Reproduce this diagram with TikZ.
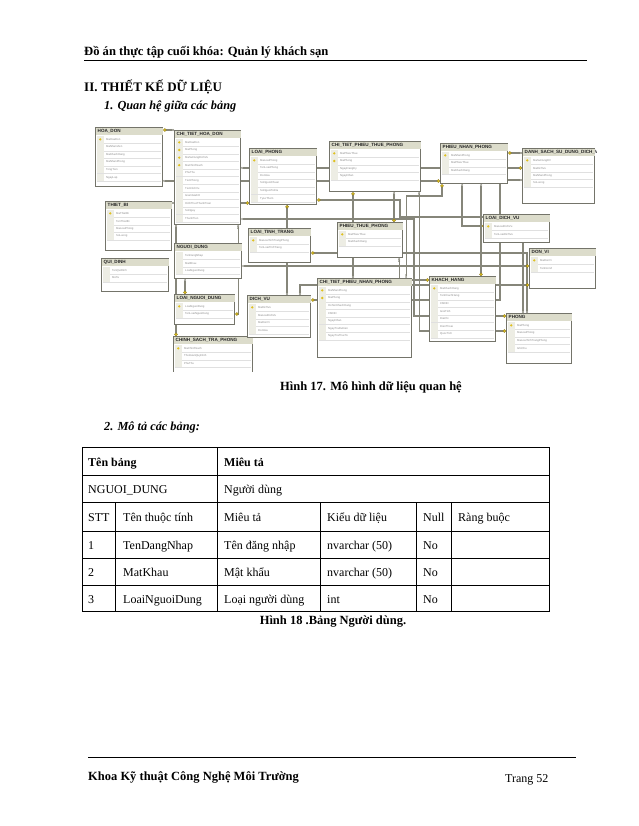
\documentclass[tikz,border=0pt]{standalone}
\usepackage{fontspec}
\setmainfont{Liberation Serif}
\newfontfamily\dbfont{Liberation Sans}
\usetikzlibrary{arrows.meta, positioning}
\pgfdeclarelayer{bottom}
\pgfdeclarelayer{background}
\pgfsetlayers{bottom,background,main}

\definecolor{relgray}{HTML}{86867A}
\definecolor{tblframe}{HTML}{74746A}
\definecolor{tblhead}{HTML}{DCDCCB}
\definecolor{tblgut}{HTML}{EDEDE4}
\definecolor{keyyel}{HTML}{E0C01E}

\tikzset{
  tbl/.style={draw=tblframe, line width=1.1pt, fill=white, anchor=north west, inner sep=0pt},
  tbltitle/.style={font=\dbfont\bfseries\fontsize{4.6}{5}\selectfont, anchor=west, inner sep=0pt, text=black!85},
  fld/.style={font=\dbfont\fontsize{2.8}{3}\selectfont, anchor=west, inner sep=0pt, text=black!45},
  rel/.style={draw=relgray, line width=1.2pt,
    {Circle[open,length=2pt,width=2pt,line width=0.5pt]Circle[open,length=2pt,width=2pt,line width=0.5pt]}-{Circle[fill=keyyel,color=keyyel!60!black,length=3.4pt,width=3.4pt,line width=0.4pt]}},
  txt/.style={anchor=base west, inner sep=0pt, font=\fontsize{12}{14}\selectfont},
  cell/.style={anchor=base west, inner sep=0pt, font=\fontsize{12}{14}\selectfont}
}

% table box: name, x, y, width, height, title, key/field list
\newcommand{\dbtable}[7]{%
  \node[tbl, minimum width=#4pt, minimum height=#5pt] (#1) at (#2,#3) {};
  \fill[tblhead] ([shift={(0.6,0.6)}]#1.north west) rectangle ([shift={(-0.6,7.6)}]#1.north east);
  \node[tbltitle] (#1-t) at ([shift={(2.5,4.2)}]#1.north west) {#6};
  \foreach \k/\f [count=\i] in {#7} {
    \fill[tblgut] ([shift={(2,{8.6+7.6*(\i-1)})}]#1.north west) rectangle ++(6.5,7.6);
    \draw[black!12, line width=0.4pt] ([shift={(2,{8.6+7.6*\i})}]#1.north west) -- ([shift={(-2,{8.6+7.6*\i})}]#1.north east);
    \node[fld] (#1-\i) at ([shift={(11,{4.8+7.6*\i})}]#1.north west) {\f};
    \ifnum\k=1 \fill[keyyel] ([shift={(5.2,{4.8+7.6*\i})}]#1.north west) circle (1.3);\fi
  }
}

\begin{document}
\begin{tikzpicture}[x=1pt, y=-1pt]
\useasboundingbox (0,0) rectangle (638,826);
\begin{pgfonlayer}{bottom}
  \fill[white] (0,0) rectangle (638,826);
\end{pgfonlayer}

% page header
\node[txt, font=\bfseries\fontsize{12.6}{14}\selectfont] (hdr) at (84,56) {Đồ án thực tập cuối khóa: Quản lý khách sạn};
\draw[line width=0.9pt] ([yshift=-4]hdr.base west) -- ++(503,0);
\node[txt, font=\bfseries\fontsize{13}{15}\selectfont] (sec) at (84,92) {II. THIẾT KẾ DỮ LIỆU};
\node[txt, font=\bfseries\itshape\fontsize{12.3}{14}\selectfont] (sub1) at (104,110) {1. Quan hệ giữa các bảng};

% database diagram
\begin{scope}
\clip (92,124) rectangle (596,371);
\dbtable{hoadon}{95}{127}{67}{59}{HOA\_DON}{1/MaHoaDon, 0/MaNhanVien, 0/MaKhachHang, 0/MaNhanPhong, 0/TongTien, 0/NgayLap}
\dbtable{cthd}{174}{130}{66}{94}{CHI\_TIET\_HOA\_DON}{1/MaHoaDon, 1/MaPhong, 1/MaSuDungDichVu, 1/MaChinhSach, 0/PhuThu, 0/TienPhong, 0/TienDichVu, 0/GiamGiaKH, 0/HinhThucThanhToan, 0/SoNgay, 0/ThanhTien}
\dbtable{thietbi}{105}{201}{66}{49}{THIET\_BI}{1/MaThietBi, 0/TenThietBi, 0/MaLoaiPhong, 0/SoLuong}
\dbtable{quidinh}{101}{258}{67}{33}{QUI\_DINH}{0/TenQuiDinh, 0/MoTa}
\dbtable{nguoidung}{174}{243}{67}{35}{NGUOI\_DUNG}{0/TenDangNhap, 0/MatKhau, 0/LoaiNguoiDung}
\dbtable{lnd}{174}{294}{60}{30}{LOAI\_NGUOI\_DUNG}{1/LoaiNguoiDung, 0/TenLoaiNguoiDung}
\dbtable{cstp}{173}{336}{79}{40}{CHINH\_SACH\_TRA\_PHONG}{1/MaChinhSach, 0/ThoiGianQuyDinh, 0/PhuThu}
\dbtable{loaiphong}{249}{148}{67}{56}{LOAI\_PHONG}{1/MaLoaiPhong, 0/TenLoaiPhong, 0/DonGia, 0/SoNguoiChuan, 0/SoNguoiToiDa, 0/TyLeThem}
\dbtable{ltt}{248}{228}{62}{34}{LOAI\_TINH\_TRANG}{1/MaLoaiTinhTrangPhong, 0/TenLoaiTinhTrang}
\dbtable{dichvu}{247}{295}{63}{42}{DICH\_VU}{1/MaDichVu, 0/MaLoaiDichVu, 0/MaDonVi, 0/DonGia}
\dbtable{ctptp}{329}{141}{91}{50}{CHI\_TIET\_PHIEU\_THUE\_PHONG}{1/MaPhieuThue, 1/MaPhong, 0/NgayDangKy, 0/NgayNhan}
\dbtable{ptp}{337}{222}{65}{35}{PHIEU\_THUE\_PHONG}{1/MaPhieuThue, 0/MaKhachHang}
\dbtable{pnp}{440}{143}{67}{40}{PHIEU\_NHAN\_PHONG}{1/MaNhanPhong, 0/MaPhieuThue, 0/MaKhachHang}
\dbtable{dssdv}{522}{148}{72}{55}{DANH\_SACH\_SU\_DUNG\_DICH\_VU}{1/MaSuDungDV, 0/MaDichVu, 0/MaNhanPhong, 0/SoLuong}
\dbtable{ldv}{483}{214}{66}{28}{LOAI\_DICH\_VU}{1/MaLoaiDichVu, 0/TenLoaiDichVu}
\dbtable{donvi}{529}{248}{66}{40}{DON\_VI}{1/MaDonVi, 0/TenDonVi}
\dbtable{ctpnp}{317}{278}{94}{79}{CHI\_TIET\_PHIEU\_NHAN\_PHONG}{1/MaNhanPhong, 1/MaPhong, 0/HoTenKhachHang, 0/CMND, 0/NgayNhan, 0/NgayTraDuKien, 0/NgayTraThucTe}
\dbtable{kh}{429}{276}{66}{65}{KHACH\_HANG}{1/MaKhachHang, 0/TenKhachHang, 0/CMND, 0/GioiTinh, 0/DiaChi, 0/DienThoai, 0/QuocTich}
\dbtable{phong}{506}{313}{65}{50}{PHONG}{1/MaPhong, 0/MaLoaiPhong, 0/MaLoaiTinhTrangPhong, 0/GhiChu}
\end{scope}

% relationships, behind the tables
\begin{pgfonlayer}{background}
\draw[rel] (cthd.west |- 0,130) -- (hoadon.east |- 0,130);
\draw[rel] (hoadon.east |- 0,181) -- (pnp.west |- 0,181);
\draw[rel] (cthd.east |- 0,168) -- (dssdv.west |- 0,168);
\draw[rel] (dssdv.west |- 0,153) -- (pnp.east |- 0,153);
\draw[rel] (thietbi.east |- 0,203) -- (loaiphong.west |- 0,203);
\draw[rel] ([xshift=17]phong.north west) |- (400,217) |- (loaiphong.east |- 0,200);
\draw[rel] ([xshift=21]phong.north west) |- (ltt.east |- 0,253);
\draw[rel] (cthd.east |- 0,219) -- (414,219) |- (phong.west |- 0,316);
\draw[rel] ([xshift=65]ctptp.south west) -- ([xshift=57]ptp.north west);
\draw[rel] ([xshift=-2]ctptp.south east) |- (phong.west |- 0,331);
\draw[rel] ([xshift=-4]ptp.south east) |- (kh.west |- 0,280);
\draw[rel] ([xshift=-6]ctpnp.north east) |- (442,196) -- ([xshift=2]pnp.south west);
\draw[rel] ([xshift=22]pnp.south west) |- (ldv.west |- 0,226);
\draw[rel] (nguoidung.east |- 0,266) -- (donvi.west |- 0,266);
\draw[rel] ([xshift=41]pnp.south west) -- ([xshift=52]kh.north west);
\draw[rel] ([xshift=11]nguoidung.south west) -- ([xshift=11]lnd.north west);
\draw[rel] ([xshift=2]cthd.south west) -- ([xshift=3]cstp.north west);
\draw[rel] ([xshift=-3]cthd.south east) |- (lnd.east |- 0,314);
\draw[rel] ([xshift=8]dichvu.north) -- ([xshift=4]loaiphong.south);
\draw[rel] ([xshift=36]ctpnp.north west) -- ([xshift=24]ctptp.south west);
\draw[rel] (dssdv.west |- 0,180) -- (500,180) |- (dichvu.east |- 0,300);
\draw[rel] ([xshift=53]dichvu.north west) |- (donvi.west |- 0,285);
\end{pgfonlayer}

\node[txt, anchor=base, font=\bfseries\fontsize{12.5}{14}\selectfont] (cap17) at (371,390) {Hình 17. Mô hình dữ liệu quan hệ};
\node[txt, font=\bfseries\itshape\fontsize{12.3}{14}\selectfont] (sub2) at (104,430) {2. Mô tả các bảng:};

% description table
\draw[line width=0.6pt] (82,447) rectangle (549,611);
\foreach \y in {475,502,531,558,585}
  \draw[line width=0.6pt] (82,\y) -- (549,\y);
\draw[line width=0.6pt] (217,447) -- (217,611);
\foreach \x in {115,320,416,451}
  \draw[line width=0.6pt] (\x,502) -- (\x,611);
\foreach \x/\y/\t [count=\n] in {
  88/466/{\bfseries Tên bảng}, 224/466/{\bfseries Miêu tả},
  88/493/NGUOI\_DUNG, 224/493/Người dùng,
  88/521/STT, 123/521/Tên thuộc tính, 224/521/Miêu tả, 327/521/Kiểu dữ liệu, 423/521/Null, 458/521/Ràng buộc,
  88/549/1, 123/549/TenDangNhap, 224/549/Tên đăng nhập, 327/549/nvarchar (50), 423/549/No,
  88/576/2, 123/576/MatKhau, 224/576/Mật khẩu, 327/576/nvarchar (50), 423/576/No,
  88/603/3, 123/603/LoaiNguoiDung, 224/603/Loại người dùng, 327/603/int, 423/603/No}
  \node[cell] (c\n) at (\x,\y) {\t};
\node[txt, anchor=base, font=\bfseries\fontsize{12.5}{14}\selectfont] (cap18) at (333,624) {Hình 18 .Bảng Người dùng.};

% page footer
\draw[line width=0.9pt] (88,757) -- (576,757);
\node[txt, font=\bfseries\fontsize{12.5}{14}\selectfont] (ftr) at (88,780) {Khoa Kỹ thuật Công Nghệ Môi Trường};
\node[txt] (pg) at (505,782) {Trang 52};
\end{tikzpicture}
\end{document}
